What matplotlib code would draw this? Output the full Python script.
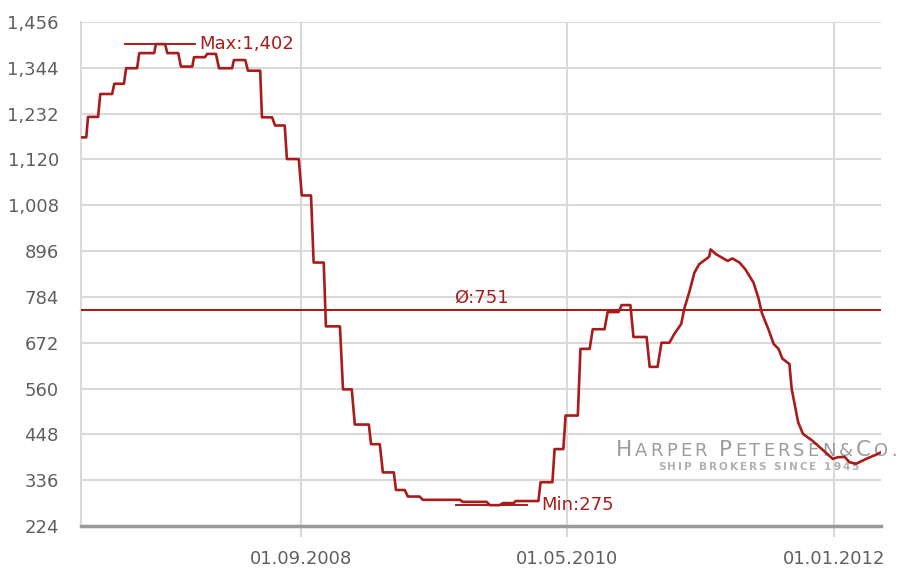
import pandas as pd
import matplotlib
matplotlib.use("Agg")
import matplotlib.pyplot as plt
from matplotlib.ticker import FixedLocator, FuncFormatter
from matplotlib.offsetbox import TextArea, HPacker, AnnotationBbox

# Valeurs (index HARPEX, points de rupture)
dates = [
    "2007-04-18", "2007-04-30", "2007-05-04", "2007-05-27", "2007-06-01", "2007-06-28",
    "2007-07-03", "2007-07-25", "2007-07-30", "2007-08-24", "2007-08-29", "2007-10-02",
    "2007-10-06", "2007-10-27", "2007-11-01", "2007-11-26", "2007-12-02", "2007-12-28",
    "2008-01-01", "2008-01-26", "2008-01-31", "2008-02-20", "2008-02-27", "2008-03-28",
    "2008-04-01", "2008-04-27", "2008-05-03", "2008-05-31", "2008-06-04", "2008-06-27",
    "2008-07-04", "2008-07-26", "2008-07-31", "2008-08-27", "2008-09-03", "2008-09-24",
    "2008-09-30", "2008-10-23", "2008-10-28", "2008-11-29", "2008-12-06", "2008-12-26",
    "2009-01-02", "2009-02-03", "2009-02-08", "2009-02-28", "2009-03-07", "2009-04-01",
    "2009-04-06", "2009-04-26", "2009-05-03", "2009-05-30", "2009-06-06", "2009-08-30",
    "2009-09-05", "2009-10-30", "2009-11-06", "2009-11-29", "2009-12-06", "2009-12-31",
    "2010-01-04", "2010-02-25", "2010-03-02", "2010-03-29", "2010-04-03", "2010-04-23",
    "2010-04-28", "2010-05-26", "2010-06-01", "2010-06-22", "2010-06-29", "2010-07-26",
    "2010-08-02", "2010-08-27", "2010-09-03", "2010-09-23", "2010-09-30", "2010-10-30",
    "2010-11-06", "2010-11-24", "2010-12-03", "2010-12-21", "2011-01-01", "2011-01-17",
    "2011-01-24", "2011-02-05", "2011-02-16", "2011-02-27", "2011-03-19", "2011-03-22",
    "2011-03-25", "2011-04-07", "2011-05-03", "2011-05-14", "2011-05-30", "2011-06-12",
    "2011-07-01", "2011-07-12", "2011-07-20", "2011-08-04", "2011-08-16", "2011-08-27",
    "2011-09-05", "2011-09-21", "2011-09-26", "2011-10-11", "2011-10-22", "2011-11-13",
    "2011-12-06", "2011-12-29", "2012-01-09", "2012-01-25", "2012-02-05", "2012-02-20",
    "2012-03-14", "2012-04-05", "2012-04-17",
]
valeurs = [
    1174, 1174, 1224, 1224, 1280, 1280,
    1305, 1305, 1343, 1343, 1380, 1380,
    1402, 1402, 1380, 1380, 1347, 1347,
    1370, 1370, 1378, 1378, 1343, 1343,
    1363, 1363, 1337, 1337, 1223, 1223,
    1203, 1203, 1121, 1121, 1032, 1032,
    868, 868, 712, 712, 558, 558,
    472, 472, 424, 424, 355, 355,
    312, 312, 296, 296, 288, 288,
    283, 283, 275, 275, 280, 280,
    285, 285, 331, 331, 412, 412,
    494, 494, 657, 657, 705, 705,
    747, 747, 764, 764, 686, 686,
    613, 613, 672, 672, 693, 718,
    755, 798, 843, 864, 880, 883,
    900, 888, 872, 878, 868, 852,
    819, 782, 745, 705, 669, 657,
    633, 620, 560, 477, 449, 432,
    410, 388, 392, 393, 380, 376,
    388, 398, 404,
]

graduations_y = [224, 336, 448, 560, 672, 784, 896, 1008, 1120, 1232, 1344, 1456]
graduations_x = ["2008-09-01", "2010-05-01", "2012-01-01"]
etiquettes_x = ["01.09.2008", "01.05.2010", "01.01.2012"]
moyenne = 751
maximum = 1402
minimum = 275

rouge = "#a81c1c"
gris_texte = "#5f5f5f"
gris_grille = "#d9d9d9"

dates = pd.to_datetime(dates)
plt.rcParams["font.family"] = "DejaVu Sans"

fig = plt.figure(figsize=(8.99, 5.70), dpi=100)
ax = fig.add_axes([81 / 899, 44 / 570, 800 / 899, 504 / 570])


# filigrane en petites capitales, lettre par lettre
def filigrane(texte, grandes, taille, taille_grande, couleur, espace, poids="normal"):
    lettres = []
    for i, c in enumerate(texte):
        t = taille_grande if i in grandes else taille
        lettres.append(TextArea(c, textprops=dict(fontsize=t, color=couleur, fontweight=poids)))
    return HPacker(children=lettres, align="baseline", pad=0, sep=espace)


logo = filigrane("HARPER PETERSEN&CO.", [0, 7, 16], 13, 15.5, "#9c9c9c", 2.2)
ab = AnnotationBbox(logo, (616, 110.5), xycoords="figure pixels", box_alignment=(0, 0),
                    frameon=False, pad=0, zorder=1, annotation_clip=False)
ax.add_artist(ab)
sous_titre = filigrane("SHIP BROKERS SINCE 1945", [], 7.5, 7.5, "#b0b0b0", 1.4, "bold")
ab2 = AnnotationBbox(sous_titre, (658, 97.5), xycoords="figure pixels", box_alignment=(0, 0),
                     frameon=False, pad=0, zorder=1, annotation_clip=False)
ax.add_artist(ab2)

ax.plot(dates, valeurs, color=rouge, lw=1.9, zorder=4, solid_joinstyle="round")

# moyenne
ax.axhline(moyenne, color="#a80000", lw=1.3, zorder=3)
ax.text(0.5, moyenne + 8, "Ø:751", transform=ax.get_yaxis_transform(),
        ha="center", va="bottom", fontsize=13, color=rouge)

# max / min
demi = pd.Timedelta(days=80)
d_max = pd.Timestamp("2007-10-15")
ax.plot([d_max - demi, d_max + demi], [maximum, maximum], color=rouge, lw=1.4, zorder=4)
ax.text(d_max + demi + pd.Timedelta(days=11), maximum, "Max:1,402", ha="left", va="center",
        fontsize=13, color=rouge)
d_min = pd.Timestamp("2009-11-10")
ax.plot([d_min - demi, d_min + demi], [minimum, minimum], color=rouge, lw=1.4, zorder=4)
ax.text(d_min + demi + pd.Timedelta(days=33), minimum, "Min:275", ha="left", va="center",
        fontsize=13, color=rouge)

ax.set_xlim(dates[0], dates[-1])
ax.set_ylim(graduations_y[0], graduations_y[-1])
ax.yaxis.set_major_locator(FixedLocator(graduations_y))
ax.yaxis.set_major_formatter(FuncFormatter(lambda v, p: f"{int(v):,}"))
ax.set_xticks(pd.to_datetime(graduations_x))
ax.set_xticklabels(etiquettes_x)

ax.grid(True, color=gris_grille, lw=1.5, zorder=0)
ax.set_axisbelow(True)
ax.tick_params(axis="y", length=0, pad=16, labelsize=13, labelcolor=gris_texte)
ax.tick_params(axis="x", length=8, width=1.5, color=gris_grille, pad=9,
               labelsize=13, labelcolor=gris_texte)
for cote in ["top", "right"]:
    ax.spines[cote].set_visible(False)
ax.spines["left"].set_color(gris_grille)
ax.spines["left"].set_linewidth(1.5)
ax.spines["bottom"].set_color("#9a9a9a")
ax.spines["bottom"].set_linewidth(2.5)

plt.savefig("out.png", dpi=100)
